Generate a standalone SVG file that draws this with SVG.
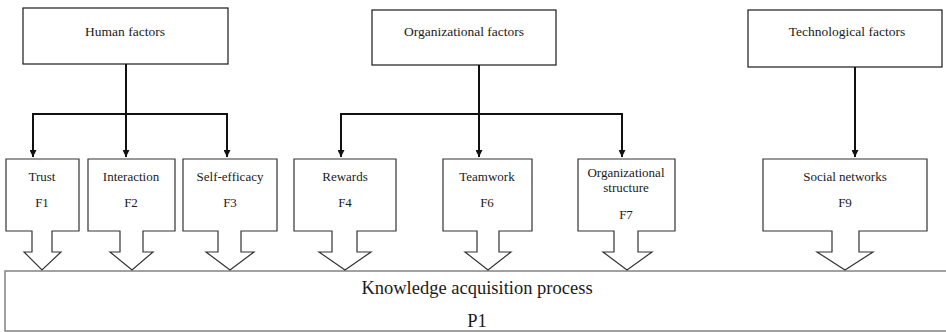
<svg xmlns="http://www.w3.org/2000/svg" width="946" height="332" viewBox="0 0 946 332">
  <style>
    .box { fill: #ffffff; stroke: #1a1a1a; stroke-width: 1.2; }
    .callout { fill: #ffffff; stroke: #333333; stroke-width: 1.2; stroke-linejoin: miter; }
    .process { fill: #ffffff; stroke: #7a7a7a; stroke-width: 1.4; }
    .lbl { font-family: 'Liberation Serif', 'DejaVu Serif', 'Times New Roman', serif; font-size: 13px; fill: #1a1a1a; text-anchor: middle; }
    .head { font-size: 13.5px; }
    .big { font-family: 'Liberation Serif', 'DejaVu Serif', 'Times New Roman', serif; font-size: 18.5px; fill: #1a1a1a; text-anchor: middle; }
    .wire { fill: none; stroke: #111111; stroke-width: 2; }
  </style>
  <defs>
    <marker id="tri" viewBox="0 0 10 10" refX="10" refY="5" markerWidth="3.5" markerHeight="3.5" orient="auto" markerUnits="strokeWidth">
      <path d="M0,0 L10,5 L0,10 z" fill="#111111"/>
    </marker>
  </defs>

  <!-- process bar -->
  <g id="process">
    <rect class="process" x="5" y="271" width="950" height="60"/>
    <text class="big" x="477" y="294">Knowledge acquisition process</text>
    <text class="big" x="477" y="327">P1</text>
  </g>

  <!-- factor groups -->
  <g id="human-factors">
    <rect class="box" x="23" y="8" width="205" height="56"/>
    <text class="lbl head" x="125" y="36">Human factors</text>
  </g>
  <g id="organizational-factors">
    <rect class="box" x="372" y="10" width="184" height="55"/>
    <text class="lbl head" x="464" y="36">Organizational factors</text>
  </g>
  <g id="technological-factors">
    <rect class="box" x="748" y="10" width="194" height="57"/>
    <text class="lbl head" x="847" y="36">Technological factors</text>
  </g>

  <!-- factor callouts: box with downward block arrow -->
  <g id="f1">
    <path class="callout" d="M6,159 H79 V231 H52 V252 H61 L42,270 L24,252 H32 V231 H6 Z"/>
    <text class="lbl" x="42" y="181">Trust</text>
    <text class="lbl" x="42" y="207">F1</text>
  </g>
  <g id="f2">
    <path class="callout" d="M88,159 H175 V231 H143 V252 H153 L132,270 L110,252 H120 V231 H88 Z"/>
    <text class="lbl" x="131" y="181">Interaction</text>
    <text class="lbl" x="131" y="207">F2</text>
  </g>
  <g id="f3">
    <path class="callout" d="M183,159 H277 V231 H241 V252 H254 L230,270 L206,252 H218 V231 H183 Z"/>
    <text class="lbl" x="230" y="181">Self-efficacy</text>
    <text class="lbl" x="230" y="207">F3</text>
  </g>
  <g id="f4">
    <path class="callout" d="M294,159 H396 V231 H357 V252 H371 L345,270 L319,252 H332 V231 H294 Z"/>
    <text class="lbl" x="345" y="181">Rewards</text>
    <text class="lbl" x="345" y="207">F4</text>
  </g>
  <g id="f6">
    <path class="callout" d="M443,159 H532 V231 H499 V252 H511 L488,270 L465,252 H477 V231 H443 Z"/>
    <text class="lbl" x="487" y="181">Teamwork</text>
    <text class="lbl" x="487" y="207">F6</text>
  </g>
  <g id="f7">
    <path class="callout" d="M578,159 H675 V231 H638 V252 H652 L627,270 L603,252 H614 V231 H578 Z"/>
    <text class="lbl" x="626" y="177">Organizational</text>
    <text class="lbl" x="626" y="192">structure</text>
    <text class="lbl" x="626" y="219">F7</text>
  </g>
  <g id="f9">
    <path class="callout" d="M763,159 H927 V231 H859 V252 H873 L845,270 L817,252 H832 V231 H763 Z"/>
    <text class="lbl" x="845" y="181">Social networks</text>
    <text class="lbl" x="845" y="207">F9</text>
  </g>

  <!-- connectors -->
  <g id="connectors">
    <line class="wire" x1="126" y1="64" x2="126" y2="114"/>
    <line class="wire" x1="32" y1="114" x2="228" y2="114"/>
    <line class="wire" x1="33" y1="113" x2="33" y2="157" marker-end="url(#tri)"/>
    <line class="wire" x1="126" y1="113" x2="126" y2="157" marker-end="url(#tri)"/>
    <line class="wire" x1="227" y1="113" x2="227" y2="157" marker-end="url(#tri)"/>

    <line class="wire" x1="479" y1="65" x2="479" y2="114"/>
    <line class="wire" x1="340" y1="114" x2="623" y2="114"/>
    <line class="wire" x1="341" y1="113" x2="341" y2="157" marker-end="url(#tri)"/>
    <line class="wire" x1="479" y1="113" x2="479" y2="157" marker-end="url(#tri)"/>
    <line class="wire" x1="622" y1="113" x2="622" y2="157" marker-end="url(#tri)"/>

    <line class="wire" x1="855" y1="67" x2="855" y2="157" marker-end="url(#tri)"/>
  </g>
</svg>
